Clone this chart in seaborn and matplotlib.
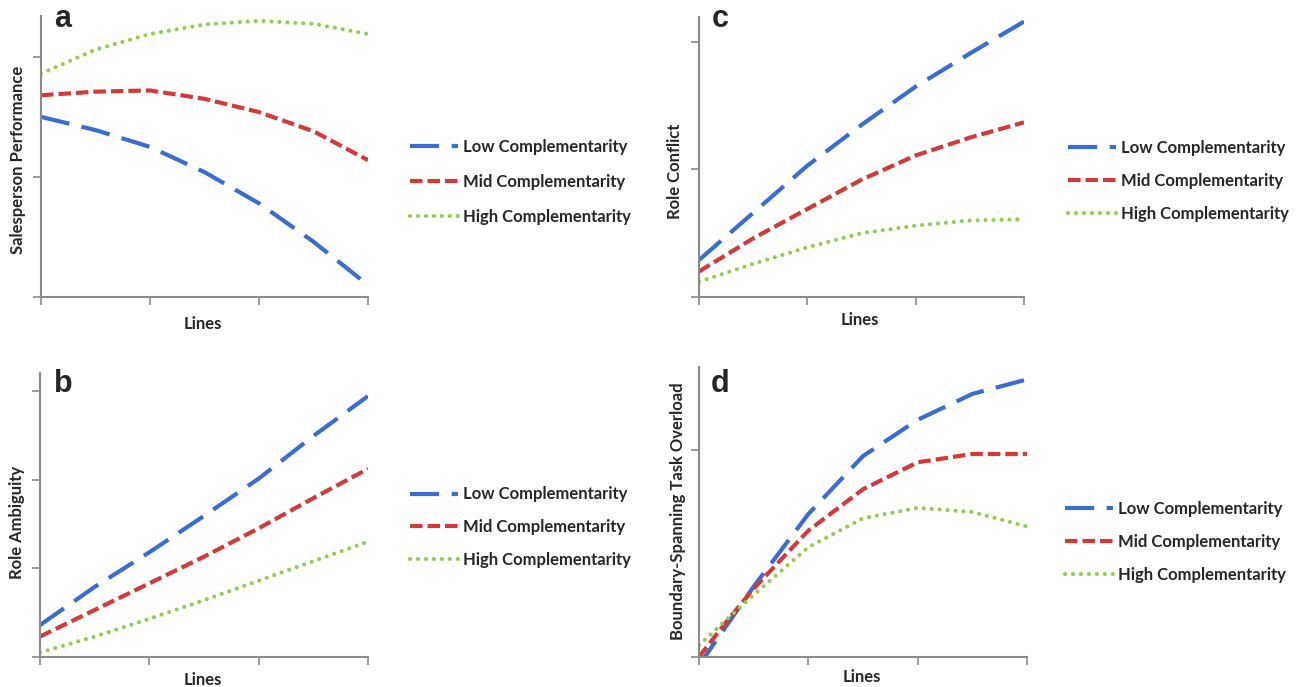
import numpy as np
import pandas as pd
import matplotlib
matplotlib.use('Agg')
import matplotlib.pyplot as plt
import seaborn as sns

# x positions (axis runs 0..3, four ticks)
x_vals = [0, 0.5, 1, 1.5, 2, 2.5, 3]
x_vals_d = [0, 0.25, 0.5, 1, 1.5, 2, 2.5, 3]
groups = ['Low Complementarity', 'Mid Complementarity', 'High Complementarity']

# a - Salesperson Performance
perf_low = [1.50, 1.39, 1.25, 1.04, 0.78, 0.46, 0.10]
perf_mid = [1.68, 1.71, 1.72, 1.65, 1.54, 1.38, 1.14]
perf_high = [1.86, 2.06, 2.19, 2.27, 2.30, 2.275, 2.19]

# b - Role Ambiguity
amb_low = [0.36, 0.79, 1.18, 1.59, 2.01, 2.49, 2.94]
amb_mid = [0.23, 0.53, 0.83, 1.13, 1.45, 1.79, 2.12]
amb_high = [0.05, 0.23, 0.43, 0.64, 0.86, 1.08, 1.30]

# c - Role Conflict
conf_low = [0.29, 0.66, 1.03, 1.35, 1.65, 1.91, 2.16]
conf_mid = [0.20, 0.46, 0.69, 0.92, 1.11, 1.25, 1.37]
conf_high = [0.12, 0.26, 0.39, 0.50, 0.56, 0.60, 0.61]

# d - Boundary-Spanning Task Overload
over_low = [-0.04, 0.15, 0.34, 0.69, 0.97, 1.145, 1.27, 1.34]
over_mid = [0.0, 0.17, 0.33, 0.61, 0.81, 0.94, 0.98, 0.98]
over_high = [0.056, 0.18, 0.30, 0.53, 0.67, 0.72, 0.70, 0.63]

palette = {'Low Complementarity': '#3A6DD3',
           'Mid Complementarity': '#D23A3A',
           'High Complementarity': '#96CB55'}
dash_map = {'Low Complementarity': (7, 3),
            'Mid Complementarity': (3, 1.2),
            'High Complementarity': (0.01, 1.9)}

sns.set_style('white')
plt.rcParams['font.family'] = ['Lato', 'DejaVu Sans']
plt.rcParams['font.weight'] = 'bold'

W, H = 1299, 687
fig = plt.figure(figsize=(W / 100, H / 100), dpi=100)


def make_axes(left, right, top, bottom):
    return fig.add_axes([left / W, 1 - bottom / H, (right - left) / W, (bottom - top) / H])


panels = [
    # letter, ylabel, x, series, box (px), ymax, yticks, ylabel pos, xlabel y,
    # legend anchor (px), legend row spacing, letter pos (px)
    ('a', 'Salesperson Performance', x_vals, [perf_low, perf_mid, perf_high],
     (41, 368, 16, 297), 2.34, [0, 1, 2], (-0.046, 0.488), -0.066, (410, 182), 1.15, (54, 27)),
    ('c', 'Role Conflict', x_vals, [conf_low, conf_mid, conf_high],
     (699, 1024, 17, 297), 2.196, [0, 1, 2], (-0.049, 0.45), -0.052, (1068, 181), 1.03, (712, 27)),
    ('b', 'Role Ambiguity', x_vals, [amb_low, amb_mid, amb_high],
     (40, 368, 373, 657), 3.2, [0, 1, 2, 3], (-0.046, 0.475), -0.054, (410, 527), 1.0, (54, 392)),
    ('d', 'Boundary-Spanning Task Overload', x_vals_d, [over_low, over_mid, over_high],
     (699, 1027, 367, 657), 1.40, [0, 1], (-0.040, 0.503), -0.043, (1065, 542), 1.03, (711, 392)),
]

grey = '#8A8A8A'

for letter, ylab, xs, series, box, ymax, yt, ypos, xlab_y, leg, lsp, lpos in panels:
    ax = make_axes(*box)
    df = pd.concat([pd.DataFrame({'x': xs, 'y': vals, 'group': g})
                    for g, vals in zip(groups, series)], ignore_index=True)
    sns.lineplot(data=df, x='x', y='y', hue='group', style='group',
                 palette=palette, dashes=dash_map, hue_order=groups,
                 style_order=groups, linewidth=3, legend=False, ax=ax)
    lines = ax.get_lines()[:3]
    for ln, g in zip(lines, groups):
        if g.startswith('High'):
            ln.set_dash_capstyle('round')

    ax.set_xlim(0, 3)
    ax.set_ylim(0, ymax)
    ax.set_xticks([0, 1, 2, 3])
    ax.set_yticks(yt)
    ax.set_xticklabels([])
    ax.set_yticklabels([])
    ax.tick_params(direction='out', length=6, width=1.2, color=grey, left=True, bottom=True)
    for s in ['top', 'right']:
        ax.spines[s].set_visible(False)
    for s in ['left', 'bottom']:
        ax.spines[s].set_color(grey)
        ax.spines[s].set_linewidth(1.5)

    ax.set_xlabel('Lines', fontsize=12, fontweight='bold')
    ax.set_ylabel(ylab, fontsize=12, fontweight='bold')
    ax.yaxis.set_label_coords(*ypos)
    ax.xaxis.set_label_coords(0.495, xlab_y)
    ax.xaxis.label.set_va('top')

    ax.legend(lines, groups, loc='center left',
              bbox_to_anchor=(leg[0] / W, 1 - leg[1] / H),
              bbox_transform=fig.transFigure, frameon=False,
              borderpad=0, borderaxespad=0, handlelength=2.9,
              handletextpad=0.3, labelspacing=lsp,
              prop={'size': 12, 'weight': 'bold'})

    fig.text(lpos[0] / W, 1 - lpos[1] / H, letter, fontsize=22,
             fontweight='bold', family=['Liberation Sans', 'DejaVu Sans'],
             ha='left', va='baseline')

fig.savefig('out.png', dpi=100)
